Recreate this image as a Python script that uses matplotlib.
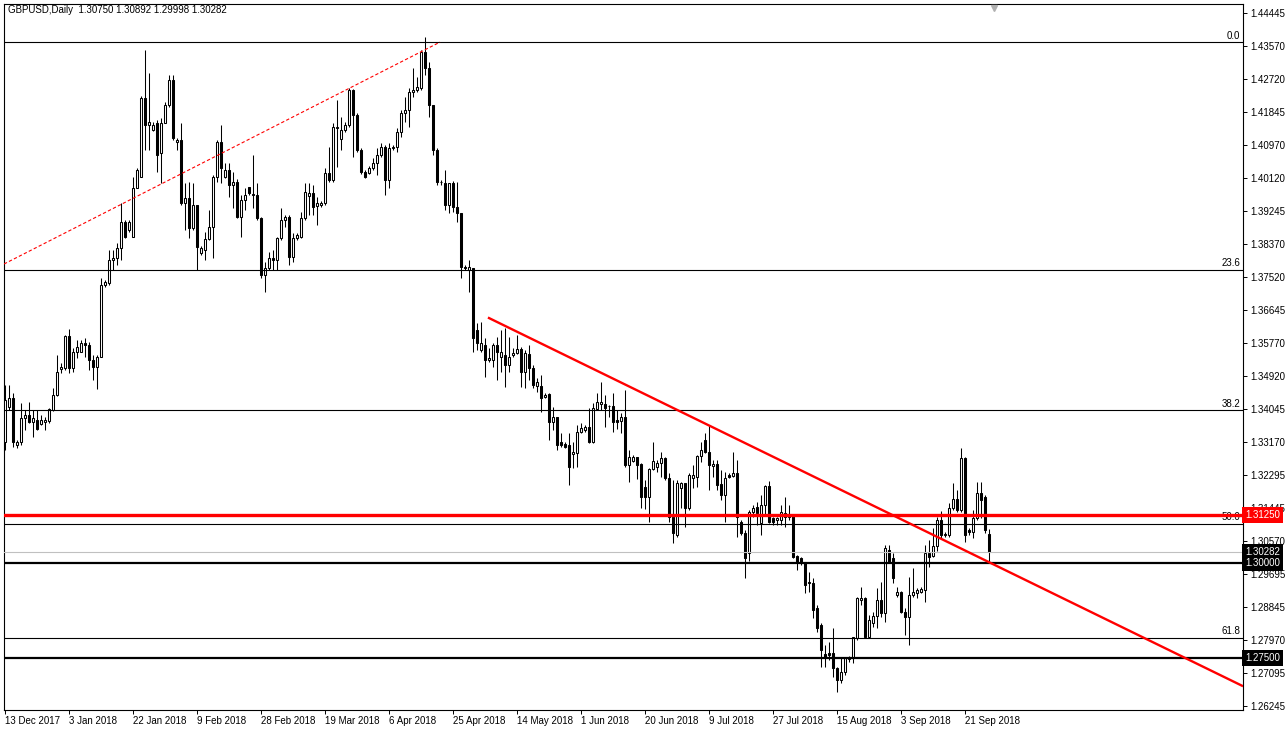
import matplotlib
matplotlib.use("Agg")
from matplotlib import pyplot as plt
import numpy as np

plt.rcParams['font.family'] = ['Liberation Sans', 'DejaVu Sans']

# daily GBPUSD candles, 13 Dec 2017 .. 27 Sep 2018 (bar index 0..246)
opens = [
    1.3318, 1.3410, 1.3433, 1.3310, 1.3318, 1.3381, 1.3389, 1.3370, 1.3375, 1.3365,
    1.3370, 1.3373, 1.3402, 1.3441, 1.3509, 1.3512, 1.3596, 1.3512, 1.3554, 1.3554,
    1.3578, 1.3573, 1.3533, 1.3515, 1.3541, 1.3730, 1.3735, 1.3796, 1.3801, 1.3827,
    1.3895, 1.3875, 1.3856, 1.3985, 1.4013, 1.4221, 1.4150, 1.4137, 1.4156, 1.4077,
    1.4156, 1.4203, 1.4269, 1.4106, 1.4111, 1.3945, 1.3958, 1.3880, 1.3940, 1.3814,
    1.3822, 1.3851, 1.3883, 1.4013, 1.4106, 1.4013, 1.4032, 1.3993, 1.4001, 1.3909,
    1.3953, 1.3988, 1.3966, 1.3966, 1.3906, 1.3756, 1.3775, 1.3801, 1.3796, 1.3854,
    1.3901, 1.3909, 1.3804, 1.3854, 1.3856, 1.3906, 1.3964, 1.3972, 1.3938, 1.3940,
    1.3945, 1.4024, 1.4006, 1.4143, 1.4114, 1.4137, 1.4150, 1.4242, 1.4177, 1.4085,
    1.4027, 1.4024, 1.4037, 1.4051, 1.4072, 1.4093, 1.4006, 1.4090, 1.4093, 1.4132,
    1.4182, 1.4190, 1.4237, 1.4242, 1.4247, 1.4342, 1.4300, 1.4203, 1.4085, 1.4001,
    1.3998, 1.3940, 1.3998, 1.3935, 1.3919, 1.3777, 1.3769, 1.3775, 1.3612, 1.3559,
    1.3573, 1.3533, 1.3533, 1.3573, 1.3541, 1.3546, 1.3520, 1.3546, 1.3551, 1.3562,
    1.3501, 1.3549, 1.3512, 1.3465, 1.3465, 1.3436, 1.3444, 1.3370, 1.3383, 1.3318,
    1.3312, 1.3310, 1.3286, 1.3288, 1.3344, 1.3349, 1.3357, 1.3318, 1.3404, 1.3418,
    1.3418, 1.3413, 1.3413, 1.3375, 1.3373, 1.3383, 1.3257, 1.3268, 1.3278, 1.3260,
    1.3199, 1.3173, 1.3247, 1.3252, 1.3262, 1.3275, 1.3223, 1.3121, 1.3073, 1.3197,
    1.3210, 1.3144, 1.3223, 1.3226, 1.3281, 1.3323, 1.3291, 1.3254, 1.3260, 1.3207,
    1.3178, 1.3231, 1.3228, 1.3236, 1.3108, 1.3078, 1.3026, 1.3134, 1.3147, 1.3105,
    1.3152, 1.3202, 1.3118, 1.3113, 1.3113, 1.3131, 1.3121, 1.3123, 1.3018, 1.3013,
    1.3003, 1.2950, 1.2947, 1.2881, 1.2837, 1.2761, 1.2763, 1.2763, 1.2724, 1.2692,
    1.2713, 1.2747, 1.2750, 1.2803, 1.2903, 1.2908, 1.2805, 1.2842, 1.2860, 1.2903,
    1.2868, 1.3034, 1.3013, 1.2916, 1.2924, 1.2871, 1.2858, 1.2916, 1.2921, 1.2924,
    1.2929, 1.3026, 1.3018, 1.3045, 1.3113, 1.3073, 1.3073, 1.3144, 1.3168, 1.3139,
    1.3275, 1.3086, 1.3081, 1.3118, 1.3184, 1.3173, 1.30750,
]
highs = [
    1.3467, 1.3467, 1.3446, 1.3323, 1.3420, 1.3402, 1.3423, 1.3402, 1.3402, 1.3389,
    1.3383, 1.3407, 1.3459, 1.3546, 1.3525, 1.3599, 1.3614, 1.3565, 1.3586, 1.3586,
    1.3591, 1.3580, 1.3546, 1.3546, 1.3748, 1.3743, 1.3822, 1.3822, 1.3840, 1.3945,
    1.3901, 1.3901, 1.4013, 1.4037, 1.4227, 1.4347, 1.4287, 1.4158, 1.4164, 1.4169,
    1.4211, 1.4282, 1.4282, 1.4116, 1.4156, 1.3998, 1.4001, 1.3998, 1.3940, 1.3833,
    1.3869, 1.3927, 1.4019, 1.4111, 1.4150, 1.4051, 1.4051, 1.4027, 1.4009, 1.3966,
    1.3985, 1.3988, 1.4072, 1.3998, 1.3909, 1.3790, 1.3817, 1.3822, 1.3856, 1.3932,
    1.3914, 1.3914, 1.3867, 1.3867, 1.3922, 1.3998, 1.3998, 1.3993, 1.3961, 1.3951,
    1.4037, 1.4093, 1.4156, 1.4216, 1.4171, 1.4158, 1.4247, 1.4245, 1.4182, 1.4090,
    1.4032, 1.4043, 1.4064, 1.4090, 1.4103, 1.4098, 1.4103, 1.4098, 1.4143, 1.4190,
    1.4224, 1.4247, 1.4300, 1.4277, 1.4347, 1.4381, 1.4316, 1.4203, 1.4090, 1.4006,
    1.4032, 1.3998, 1.4003, 1.4001, 1.3919, 1.3783, 1.3796, 1.3775, 1.3630, 1.3633,
    1.3591, 1.3565, 1.3578, 1.3594, 1.3612, 1.3617, 1.3594, 1.3565, 1.3599, 1.3567,
    1.3559, 1.3573, 1.3520, 1.3486, 1.3494, 1.3446, 1.3446, 1.3410, 1.3383, 1.3341,
    1.3318, 1.3341, 1.3318, 1.3362, 1.3368, 1.3362, 1.3407, 1.3420, 1.3446, 1.3475,
    1.3441, 1.3415, 1.3446, 1.3402, 1.3394, 1.3454, 1.3297, 1.3283, 1.3278, 1.3262,
    1.3218, 1.3249, 1.3318, 1.3270, 1.3291, 1.3278, 1.3236, 1.3218, 1.3218, 1.3212,
    1.3210, 1.3236, 1.3257, 1.3283, 1.3318, 1.3341, 1.3362, 1.3270, 1.3270, 1.3244,
    1.3239, 1.3236, 1.3291, 1.3270, 1.3113, 1.3086, 1.3139, 1.3152, 1.3160, 1.3178,
    1.3205, 1.3215, 1.3121, 1.3121, 1.3152, 1.3173, 1.3152, 1.3126, 1.3021, 1.3016,
    1.3003, 1.2976, 1.2960, 1.2889, 1.2842, 1.2784, 1.2792, 1.2829, 1.2727, 1.2753,
    1.2753, 1.2755, 1.2805, 1.2910, 1.2937, 1.2910, 1.2863, 1.2871, 1.2934, 1.2950,
    1.3047, 1.3047, 1.3026, 1.2937, 1.2926, 1.2881, 1.2963, 1.2987, 1.2934, 1.2937,
    1.3047, 1.3060, 1.3092, 1.3121, 1.3136, 1.3081, 1.3157, 1.3210, 1.3191, 1.3302,
    1.3278, 1.3092, 1.3139, 1.3212, 1.3212, 1.3178, 1.30892,
]
lows = [
    1.3297, 1.3402, 1.3304, 1.3302, 1.3310, 1.3349, 1.3368, 1.3331, 1.3349, 1.3362,
    1.3349, 1.3368, 1.3399, 1.3438, 1.3499, 1.3507, 1.3499, 1.3501, 1.3538, 1.3554,
    1.3541, 1.3507, 1.3480, 1.3457, 1.3541, 1.3725, 1.3730, 1.3769, 1.3783, 1.3796,
    1.3854, 1.3869, 1.3856, 1.3985, 1.4013, 1.4085, 1.4085, 1.4135, 1.4027, 1.3998,
    1.4156, 1.4198, 1.4111, 1.4085, 1.3940, 1.3875, 1.3854, 1.3875, 1.3769, 1.3809,
    1.3796, 1.3848, 1.3801, 1.4001, 1.3998, 1.4011, 1.3961, 1.3932, 1.3906, 1.3856,
    1.3927, 1.3966, 1.3932, 1.3901, 1.3748, 1.3712, 1.3769, 1.3769, 1.3769, 1.3848,
    1.3883, 1.3783, 1.3790, 1.3848, 1.3854, 1.3901, 1.3914, 1.3914, 1.3888, 1.3935,
    1.3940, 1.4001, 1.4001, 1.4040, 1.4085, 1.4132, 1.4145, 1.4066, 1.4080, 1.4021,
    1.4011, 1.4021, 1.4032, 1.4019, 1.4066, 1.3966, 1.3985, 1.4085, 1.4080, 1.4119,
    1.4158, 1.4145, 1.4224, 1.4237, 1.4242, 1.4282, 1.4171, 1.4072, 1.3993, 1.3993,
    1.3927, 1.3919, 1.3922, 1.3895, 1.3748, 1.3769, 1.3712, 1.3554, 1.3559, 1.3554,
    1.3488, 1.3528, 1.3515, 1.3480, 1.3501, 1.3462, 1.3501, 1.3541, 1.3549, 1.3462,
    1.3459, 1.3480, 1.3459, 1.3449, 1.3396, 1.3433, 1.3323, 1.3349, 1.3297, 1.3304,
    1.3302, 1.3205, 1.3249, 1.3252, 1.3341, 1.3344, 1.3315, 1.3315, 1.3402, 1.3402,
    1.3357, 1.3383, 1.3344, 1.3352, 1.3341, 1.3252, 1.3213, 1.3265, 1.3220, 1.3144,
    1.3142, 1.3108, 1.3244, 1.3239, 1.3226, 1.3218, 1.3108, 1.3052, 1.3068, 1.3144,
    1.3095, 1.3139, 1.3197, 1.3199, 1.3265, 1.3288, 1.3191, 1.3226, 1.3191, 1.3165,
    1.3108, 1.3223, 1.3226, 1.3068, 1.3073, 1.2960, 1.3005, 1.3121, 1.3100, 1.3073,
    1.3126, 1.3105, 1.3100, 1.3100, 1.3100, 1.3095, 1.3113, 1.3013, 1.2981, 1.2995,
    1.2921, 1.2924, 1.2855, 1.2818, 1.2727, 1.2727, 1.2745, 1.2700, 1.2661, 1.2685,
    1.2706, 1.2740, 1.2737, 1.2797, 1.2889, 1.2803, 1.2803, 1.2831, 1.2829, 1.2858,
    1.2845, 1.3000, 1.2947, 1.2910, 1.2868, 1.2811, 1.2784, 1.2910, 1.2908, 1.2921,
    1.2897, 1.2989, 1.3016, 1.3031, 1.3065, 1.3068, 1.3068, 1.3139, 1.3134, 1.3134,
    1.3055, 1.3073, 1.3065, 1.3113, 1.3118, 1.3078, 1.29998,
]
closes = [
    1.3428, 1.3433, 1.3318, 1.3318, 1.3381, 1.3389, 1.3370, 1.3381, 1.3352, 1.3375,
    1.3375, 1.3404, 1.3441, 1.3501, 1.3515, 1.3596, 1.3512, 1.3554, 1.3567, 1.3578,
    1.3573, 1.3533, 1.3515, 1.3541, 1.3730, 1.3738, 1.3796, 1.3801, 1.3827, 1.3895,
    1.3856, 1.3895, 1.3985, 1.4032, 1.4221, 1.4150, 1.4158, 1.4150, 1.4072, 1.4156,
    1.4203, 1.4269, 1.4116, 1.4111, 1.3945, 1.3958, 1.3880, 1.3940, 1.3830, 1.3827,
    1.3851, 1.3883, 1.4013, 1.4106, 1.4037, 1.4032, 1.3993, 1.4001, 1.3909, 1.3953,
    1.3966, 1.3972, 1.3969, 1.3906, 1.3756, 1.3775, 1.3801, 1.3796, 1.3854, 1.3901,
    1.3909, 1.3804, 1.3854, 1.3862, 1.3906, 1.3975, 1.3972, 1.3935, 1.3945, 1.3945,
    1.4024, 1.4006, 1.4145, 1.4145, 1.4137, 1.4150, 1.4242, 1.4177, 1.4085, 1.4027,
    1.4013, 1.4037, 1.4051, 1.4072, 1.4093, 1.4006, 1.4090, 1.4093, 1.4132, 1.4182,
    1.4190, 1.4237, 1.4242, 1.4250, 1.4342, 1.4300, 1.4203, 1.4085, 1.4001, 1.4000,
    1.3940, 1.3998, 1.3935, 1.3919, 1.3777, 1.3775, 1.3777, 1.3591, 1.3578, 1.3578,
    1.3533, 1.3538, 1.3573, 1.3554, 1.3554, 1.3520, 1.3541, 1.3551, 1.3562, 1.3501,
    1.3551, 1.3512, 1.3467, 1.3475, 1.3433, 1.3441, 1.3370, 1.3383, 1.3310, 1.3310,
    1.3304, 1.3252, 1.3291, 1.3344, 1.3354, 1.3357, 1.3318, 1.3407, 1.3423, 1.3423,
    1.3407, 1.3412, 1.3370, 1.3370, 1.3383, 1.3257, 1.3278, 1.3278, 1.3257, 1.3173,
    1.3173, 1.3247, 1.3268, 1.3262, 1.3275, 1.3223, 1.3121, 1.3078, 1.3210, 1.3210,
    1.3144, 1.3231, 1.3231, 1.3281, 1.3297, 1.3291, 1.3257, 1.3260, 1.3205, 1.3178,
    1.3223, 1.3226, 1.3236, 1.3121, 1.3078, 1.3013, 1.3134, 1.3144, 1.3131, 1.3152,
    1.3202, 1.3108, 1.3108, 1.3118, 1.3134, 1.3121, 1.3129, 1.3016, 1.3003, 1.3003,
    1.2942, 1.2947, 1.2876, 1.2829, 1.2771, 1.2753, 1.2758, 1.2724, 1.2692, 1.2713,
    1.2750, 1.2750, 1.2805, 1.2908, 1.2908, 1.2805, 1.2850, 1.2860, 1.2903, 1.2868,
    1.3039, 1.3003, 1.2960, 1.2924, 1.2871, 1.2858, 1.2916, 1.2924, 1.2929, 1.2931,
    1.3026, 1.3016, 1.3045, 1.3113, 1.3073, 1.3076, 1.3144, 1.3168, 1.3139, 1.3275,
    1.3073, 1.3081, 1.3118, 1.3184, 1.3165, 1.3086, 1.30282,
]

date_labels = ['13 Dec 2017', '3 Jan 2018', '22 Jan 2018', '9 Feb 2018', '28 Feb 2018',
               '19 Mar 2018', '6 Apr 2018', '25 Apr 2018', '14 May 2018', '1 Jun 2018',
               '20 Jun 2018', '9 Jul 2018', '27 Jul 2018', '15 Aug 2018', '3 Sep 2018',
               '21 Sep 2018']
date_idx = [0, 16, 32, 48, 64, 80, 96, 112, 128, 144, 160, 176, 192, 208, 224, 240]

price_ticks = [1.44445, 1.43570, 1.42720, 1.41845, 1.40970, 1.40120, 1.39245, 1.38370,
               1.37520, 1.36645, 1.35770, 1.34920, 1.34045, 1.33170, 1.32295, 1.31445,
               1.30570, 1.29695, 1.28845, 1.27970, 1.27095, 1.26245]

fib_levels = ['0.0', '23.6', '38.2', '50.0', '61.8']
fib_prices = [1.4368, 1.3770, 1.3401, 1.3102, 1.2803]

resistance = 1.31250
supports = [1.30000, 1.27500]
bid = 1.30282

# trendlines: (bar index, price) anchors
dash_x = [-0.25, 108.75]
dash_y = [1.3785, 1.4368]
trend_x = [121, 309.25]
trend_y = [1.3643, 1.2677]

o = np.array(opens); h = np.array(highs); l = np.array(lows); c = np.array(closes)
idx = np.arange(len(o))

fig = plt.figure(figsize=(12.88, 7.31), dpi=100)
ax = fig.add_axes([4/1288, 21/731, 1239/1288, 706/731])

# wicks then bodies
ax.vlines(idx, l, h, color='black', lw=0.75, zorder=2)
up = c >= o
ax.bar(idx[up], (c - o)[up], bottom=o[up], width=0.5, color='white',
       edgecolor='black', lw=0.75, zorder=3)
ax.bar(idx[~up], (o - c)[~up], bottom=c[~up], width=0.5, color='black',
       edgecolor='black', lw=0.75, zorder=3)

# fibo levels
for lev, p in zip(fib_levels, fib_prices):
    ax.axhline(p, color='black', lw=0.8, zorder=4)
    ax.text(308.8, p + 0.0004, lev, ha='right', va='bottom', fontsize=7, zorder=5)

ax.axhline(bid, color='#c0c0c0', lw=0.8, zorder=4)
for s in supports:
    ax.axhline(s, color='black', lw=1.6, zorder=4)
ax.axhline(resistance, color='#ff0000', lw=2.4, zorder=5)

ax.plot(dash_x, dash_y, color='#ff0000', lw=0.8, ls=(0, (3, 2)), zorder=4)
ax.plot(trend_x, trend_y, color='#ff0000', lw=1.7, zorder=5)

ax.set_xlim(-0.25, 309.5)
ax.set_ylim(1.26132, 1.44681)

ax.yaxis.tick_right()
ax.set_yticks(price_ticks)
ax.set_yticklabels(['%.5f' % t for t in price_ticks], fontsize=7)
ax.set_xticks(date_idx)
ax.set_xticklabels(date_labels, fontsize=7, ha='left')
ax.tick_params(axis='both', length=3, width=0.7, pad=2)
ax.tick_params(axis='x', pad=1)
for sp in ax.spines.values():
    sp.set_linewidth(0.8)

# price markers on the right axis
ytr = ax.get_yaxis_transform()
marks = [(resistance, '#ff0000'), (bid, 'black'), (supports[0], 'black'), (supports[1], 'black')]
for p, col in marks:
    ax.text(1.0015, p, '%.5f' % p, transform=ytr, ha='left', va='center', fontsize=7,
            color='white', clip_on=False, zorder=10,
            bbox=dict(boxstyle='square,pad=0.3', fc=col, ec='none'))

# shift marker
ax.plot([247.2], [1.4458], marker='v', color='#b0b0b0', ms=5, clip_on=False, zorder=6)

fig.text(8/1288, 1 - 10/731, 'GBPUSD,Daily  1.30750 1.30892 1.29998 1.30282',
         fontsize=7, va='center', ha='left')

fig.savefig('out.png', dpi=100, facecolor='white')
